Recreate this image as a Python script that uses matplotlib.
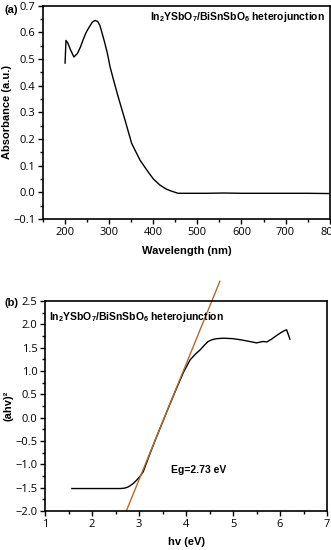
import matplotlib
matplotlib.use('Agg')
import matplotlib.pyplot as plt
from matplotlib.ticker import MultipleLocator

plt.rcParams['font.family'] = ['Open Sans', 'DejaVu Sans']
plt.rcParams['mathtext.fontset'] = 'custom'
plt.rcParams['mathtext.rm'] = 'Liberation Sans:bold'
plt.rcParams['mathtext.default'] = 'rm'

# (a) UV-vis absorbance
wavelength = [200, 202, 206, 212, 220, 228, 235, 241, 248, 255, 262, 268, 274, 279,
              285, 290, 296, 302, 310, 320, 328, 336, 351, 370, 388, 400, 415, 428,
              438, 456, 480, 520, 560, 600, 650, 700, 750, 800]
absorbance = [0.484, 0.569, 0.560, 0.535, 0.507, 0.520, 0.545, 0.572, 0.600, 0.620,
              0.638, 0.644, 0.640, 0.625, 0.590, 0.560, 0.520, 0.470, 0.420, 0.360,
              0.315, 0.270, 0.183, 0.120, 0.077, 0.050, 0.027, 0.013, 0.006, -0.004,
              -0.004, -0.004, -0.003, -0.004, -0.004, -0.004, -0.004, -0.005]

# (b) Tauc plot
hv = [1.57, 1.8, 2.0, 2.2, 2.4, 2.6, 2.70, 2.76, 2.81, 2.88, 2.95, 3.02, 3.09, 3.2,
      3.35, 3.5, 3.65, 3.8, 3.95, 4.09, 4.2, 4.30, 4.40, 4.47, 4.56, 4.65, 4.8,
      5.0, 5.2, 5.35, 5.5, 5.64, 5.72, 5.82, 5.93, 6.02, 6.09, 6.14, 6.21]
ahv2 = [-1.52, -1.52, -1.52, -1.52, -1.52, -1.52, -1.51, -1.49, -1.46, -1.41, -1.34,
        -1.26, -1.16, -0.86, -0.47, -0.10, 0.27, 0.63, 0.98, 1.24, 1.36, 1.45, 1.56,
        1.63, 1.67, 1.69, 1.70, 1.69, 1.66, 1.63, 1.60, 1.63, 1.62, 1.68, 1.76, 1.82,
        1.86, 1.88, 1.68]
fit_x = [2.73, 4.72]
fit_y = [-2.0, 2.92]

fig = plt.figure(figsize=(3.31, 5.5), dpi=100)
ax1 = fig.add_axes([0.130, 0.602, 0.866, 0.388])
ax2 = fig.add_axes([0.136, 0.071, 0.852, 0.382])

for ax in (ax1, ax2):
    ax.tick_params(which='both', direction='out', labelsize=8, width=1, pad=2)
    ax.tick_params(which='major', length=3.5)
    ax.tick_params(which='minor', length=2)
    for s in ax.spines.values():
        s.set_linewidth(1.2)

ax1.plot(wavelength, absorbance, color='black', lw=1)
ax1.set_xlim(150, 800)
ax1.set_ylim(-0.1, 0.7)
ax1.xaxis.set_major_locator(MultipleLocator(100))
ax1.xaxis.set_minor_locator(MultipleLocator(50))
ax1.yaxis.set_major_locator(MultipleLocator(0.1))
ax1.yaxis.set_minor_locator(MultipleLocator(0.05))
ax1.set_xlabel('Wavelength (nm)', family='Liberation Sans', fontweight='bold', fontsize=8, labelpad=6)
ax1.set_ylabel('Absorbance (a.u.)', family='Liberation Sans', fontweight='bold', fontsize=8, labelpad=1)
ax1.text(0.985, 0.945, r'In$_2$YSbO$_7$/BiSnSbO$_6$ heterojunction', transform=ax1.transAxes,
         ha='right', va='center', family='Liberation Sans', fontweight='bold', fontsize=7.5)

ax2.plot(hv, ahv2, color='black', lw=1)
ax2.plot(fit_x, fit_y, color='#b5692b', lw=1, clip_on=False)
ax2.set_xlim(1, 7)
ax2.set_ylim(-2.0, 2.5)
ax2.xaxis.set_major_locator(MultipleLocator(1))
ax2.xaxis.set_minor_locator(MultipleLocator(0.5))
ax2.yaxis.set_major_locator(MultipleLocator(0.5))
ax2.yaxis.set_minor_locator(MultipleLocator(0.25))
ax2.set_xlabel('hv (eV)', family='Liberation Sans', fontweight='bold', fontsize=8, labelpad=5)
ax2.set_ylabel('(ahv)²', family='Liberation Sans', fontweight='bold', fontsize=8, labelpad=1)
ax2.text(0.015, 0.925, r'In$_2$YSbO$_7$/BiSnSbO$_6$ heterojunction', transform=ax2.transAxes,
         ha='left', va='center', family='Liberation Sans', fontweight='bold', fontsize=7.5)
ax2.text(0.445, 0.195, 'Eg=2.73 eV', transform=ax2.transAxes,
         ha='left', va='center', family='Liberation Sans', fontweight='bold', fontsize=7.5)

fig.text(0.015, 0.982, '(a)', family='Liberation Sans', fontweight='bold', fontsize=8, va='center')
fig.text(0.015, 0.449, '(b)', family='Liberation Sans', fontweight='bold', fontsize=8, va='center')

fig.savefig('out.png', dpi=100)
